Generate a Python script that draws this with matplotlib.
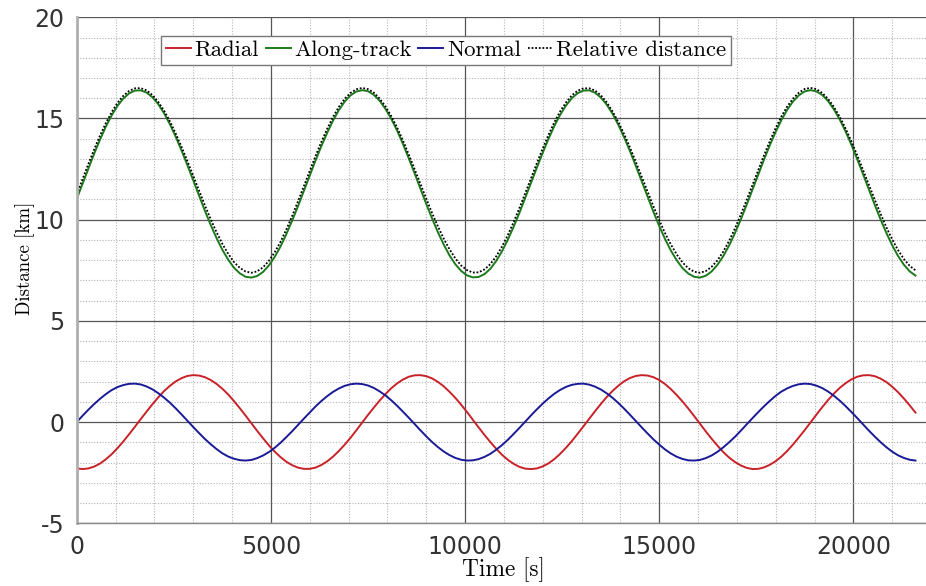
import matplotlib
matplotlib.use("Agg")
import matplotlib.pyplot as plt
from matplotlib.ticker import MultipleLocator

# sample times [s] and distances [km]
time_s = [0, 150, 300, 450, 600, 750, 900, 1050, 1200, 1350,
          1500, 1650, 1800, 1950, 2100, 2250, 2400, 2550, 2700, 2850,
          3000, 3150, 3300, 3450, 3600, 3750, 3900, 4050, 4200, 4350,
          4500, 4650, 4800, 4950, 5100, 5250, 5400, 5550, 5700, 5850,
          6000, 6150, 6300, 6450, 6600, 6750, 6900, 7050, 7200, 7350,
          7500, 7650, 7800, 7950, 8100, 8250, 8400, 8550, 8700, 8850,
          9000, 9150, 9300, 9450, 9600, 9750, 9900, 10050, 10200, 10350,
          10500, 10650, 10800, 10950, 11100, 11250, 11400, 11550, 11700, 11850,
          12000, 12150, 12300, 12450, 12600, 12750, 12900, 13050, 13200, 13350,
          13500, 13650, 13800, 13950, 14100, 14250, 14400, 14550, 14700, 14850,
          15000, 15150, 15300, 15450, 15600, 15750, 15900, 16050, 16200, 16350,
          16500, 16650, 16800, 16950, 17100, 17250, 17400, 17550, 17700, 17850,
          18000, 18150, 18300, 18450, 18600, 18750, 18900, 19050, 19200, 19350,
          19500, 19650, 19800, 19950, 20100, 20250, 20400, 20550, 20700, 20850,
          21000, 21150, 21300, 21450, 21600]

radial = [-2.29, -2.32, -2.29, -2.20, -2.05, -1.84, -1.59, -1.29, -0.96, -0.60,
          -0.23, 0.15, 0.52, 0.88, 1.22, 1.53, 1.79, 2.01, 2.17, 2.28,
          2.32, 2.30, 2.22, 2.08, 1.89, 1.65, 1.37, 1.04, 0.69, 0.32,
          -0.06, -0.44, -0.80, -1.15, -1.46, -1.73, -1.96, -2.13, -2.25, -2.31,
          -2.31, -2.25, -2.12, -1.94, -1.71, -1.43, -1.12, -0.78, -0.41, -0.03,
          0.35, 0.71, 1.06, 1.38, 1.67, 1.91, 2.10, 2.24, 2.31, 2.32,
          2.27, 2.16, 1.99, 1.77, 1.50, 1.20, 0.86, 0.50, 0.12, -0.26,
          -0.63, -0.98, -1.31, -1.61, -1.86, -2.06, -2.21, -2.30, -2.32, -2.29,
          -2.19, -2.04, -1.83, -1.57, -1.27, -0.94, -0.58, -0.21, 0.17, 0.54,
          0.90, 1.24, 1.54, 1.80, 2.02, 2.18, 2.28, 2.32, 2.30, 2.22,
          2.08, 1.88, 1.63, 1.34, 1.02, 0.67, 0.30, -0.08, -0.46, -0.82,
          -1.16, -1.48, -1.75, -1.97, -2.14, -2.26, -2.32, -2.31, -2.24, -2.11,
          -1.93, -1.70, -1.42, -1.10, -0.75, -0.39, -0.01, 0.37, 0.74, 1.09,
          1.41, 1.69, 1.92, 2.11, 2.24, 2.31, 2.32, 2.27, 2.15, 1.98,
          1.75, 1.48, 1.17, 0.83, 0.47]

along_track = [11.02, 11.77, 12.52, 13.26, 13.95, 14.59, 15.15, 15.62, 15.98, 16.24,
               16.38, 16.39, 16.28, 16.05, 15.71, 15.26, 14.72, 14.10, 13.42, 12.70,
               11.95, 11.19, 10.45, 9.75, 9.10, 8.52, 8.03, 7.63, 7.35, 7.18,
               7.14, 7.22, 7.42, 7.74, 8.16, 8.68, 9.29, 9.96, 10.67, 11.42,
               12.17, 12.92, 13.63, 14.29, 14.89, 15.41, 15.83, 16.14, 16.33, 16.40,
               16.35, 16.17, 15.88, 15.48, 14.99, 14.41, 13.75, 13.04, 12.30, 11.54,
               10.79, 10.07, 9.39, 8.78, 8.24, 7.80, 7.47, 7.25, 7.15, 7.17,
               7.31, 7.57, 7.95, 8.43, 9.00, 9.64, 10.33, 11.07, 11.82, 12.57,
               13.30, 13.99, 14.63, 15.18, 15.64, 16.00, 16.25, 16.38, 16.39, 16.27,
               16.03, 15.68, 15.23, 14.68, 14.06, 13.38, 12.65, 11.90, 11.14, 10.40,
               9.70, 9.05, 8.48, 8.00, 7.61, 7.34, 7.18, 7.14, 7.23, 7.44,
               7.77, 8.20, 8.72, 9.33, 10.00, 10.72, 11.47, 12.23, 12.97, 13.68,
               14.34, 14.93, 15.44, 15.85, 16.15, 16.34, 16.40, 16.34, 16.16, 15.86,
               15.45, 14.95, 14.36, 13.70, 12.99, 12.25, 11.49, 10.74, 10.02, 9.35,
               8.74, 8.21, 7.78, 7.45, 7.24]

normal = [0.00, 0.31, 0.61, 0.89, 1.15, 1.38, 1.58, 1.73, 1.83, 1.89,
          1.90, 1.86, 1.76, 1.62, 1.43, 1.21, 0.96, 0.68, 0.38, 0.07,
          -0.24, -0.54, -0.83, -1.09, -1.33, -1.54, -1.70, -1.81, -1.88, -1.90,
          -1.87, -1.78, -1.65, -1.48, -1.27, -1.02, -0.74, -0.45, -0.14, 0.17,
          0.47, 0.77, 1.04, 1.28, 1.49, 1.66, 1.79, 1.87, 1.90, 1.88,
          1.81, 1.69, 1.52, 1.32, 1.08, 0.81, 0.52, 0.22, -0.09, -0.40,
          -0.70, -0.98, -1.23, -1.45, -1.63, -1.77, -1.86, -1.90, -1.89, -1.83,
          -1.72, -1.57, -1.37, -1.14, -0.88, -0.59, -0.29, 0.02, 0.33, 0.63,
          0.91, 1.17, 1.40, 1.59, 1.74, 1.84, 1.89, 1.90, 1.85, 1.75,
          1.61, 1.42, 1.20, 0.94, 0.66, 0.36, 0.05, -0.26, -0.56, -0.85,
          -1.11, -1.35, -1.55, -1.71, -1.82, -1.89, -1.90, -1.87, -1.78, -1.65,
          -1.47, -1.25, -1.00, -0.73, -0.43, -0.12, 0.19, 0.49, 0.78, 1.05,
          1.30, 1.51, 1.67, 1.79, 1.87, 1.90, 1.88, 1.80, 1.68, 1.51,
          1.30, 1.06, 0.79, 0.50, 0.20, -0.11, -0.42, -0.71, -0.99, -1.24,
          -1.46, -1.64, -1.77, -1.86, -1.90]

rel_distance = [11.25, 12.00, 12.75, 13.47, 14.15, 14.77, 15.31, 15.77, 16.12, 16.36,
                16.49, 16.50, 16.39, 16.16, 15.82, 15.39, 14.86, 14.26, 13.60, 12.90,
                12.17, 11.44, 10.72, 10.03, 9.39, 8.81, 8.32, 7.91, 7.62, 7.44,
                7.38, 7.45, 7.65, 7.97, 8.39, 8.91, 9.52, 10.19, 10.91, 11.65,
                12.40, 13.14, 13.84, 14.49, 15.07, 15.57, 15.97, 16.26, 16.44, 16.51,
                16.45, 16.28, 15.99, 15.60, 15.12, 14.56, 13.92, 13.23, 12.51, 11.78,
                11.05, 10.34, 9.68, 9.07, 8.54, 8.09, 7.74, 7.51, 7.39, 7.40,
                7.54, 7.80, 8.18, 8.66, 9.23, 9.87, 10.57, 11.30, 12.05, 12.79,
                13.51, 14.19, 14.81, 15.35, 15.79, 16.14, 16.37, 16.49, 16.49, 16.38,
                16.14, 15.80, 15.35, 14.82, 14.22, 13.56, 12.85, 12.12, 11.39, 10.67,
                9.98, 9.34, 8.78, 8.29, 7.89, 7.60, 7.43, 7.38, 7.46, 7.67,
                7.99, 8.42, 8.95, 9.56, 10.24, 10.96, 11.70, 12.45, 13.18, 13.88,
                14.53, 15.11, 15.60, 15.99, 16.28, 16.46, 16.51, 16.45, 16.26, 15.97,
                15.57, 15.08, 14.51, 13.87, 13.18, 12.46, 11.73, 11.00, 10.30, 9.63,
                9.03, 8.50, 8.06, 7.72, 7.50]

plt.rcParams['axes.unicode_minus'] = False
serif = 'cmr10'

fig = plt.figure(figsize=(9.26, 5.86), dpi=100)
ax = fig.add_axes([0.0828, 0.107, 0.9226, 0.8635])

ax.plot(time_s, radial, color='#c82228', lw=1.4, label='Radial')
ax.plot(time_s, along_track, color='#1c7a1c', lw=1.4, label='Along-track')
ax.plot(time_s, normal, color='#1a1a96', lw=1.4, label='Normal')
ax.plot(time_s, rel_distance, color='black', lw=1.3, ls=(0, (1, 1)), label='Relative distance')

ax.set_xlim(0, 22000)
ax.set_ylim(-5, 20)
ax.xaxis.set_major_locator(MultipleLocator(5000))
ax.xaxis.set_minor_locator(MultipleLocator(1000))
ax.yaxis.set_major_locator(MultipleLocator(5))
ax.yaxis.set_minor_locator(MultipleLocator(1))
ax.grid(which='major', color='#555555', lw=0.9, ls='-')
ax.grid(which='minor', color='#b5b5b5', lw=0.8, ls=(0, (1, 1.5)))
ax.set_axisbelow(True)
ax.tick_params(which='both', length=0, labelsize=17, labelcolor='#333333')
ax.tick_params(axis='x', pad=8.5)
ax.tick_params(axis='y', pad=9)

for side in ['top', 'right']:
    ax.spines[side].set_visible(False)
ax.spines['left'].set_color('#b0b0b0')
ax.spines['left'].set_linewidth(2)
ax.spines['bottom'].set_color('#888888')
ax.spines['bottom'].set_linewidth(1)

ax.set_xlabel('Time [s]', fontfamily=serif, fontsize=16.8, labelpad=-1.5)
ax.set_ylabel('Distance [km]', fontfamily=serif, fontsize=13.6)
ax.yaxis.set_label_coords(-0.0490, 0.523)

leg = ax.legend(loc='upper left', bbox_to_anchor=(0.099, 0.964), borderaxespad=0,
                ncol=4, prop={'family': serif, 'size': 16.4}, handlelength=1.1,
                handletextpad=0.15, columnspacing=0.3, borderpad=0.2,
                fancybox=False, framealpha=1, edgecolor='#777777')
leg.get_frame().set_linewidth(1)

fig.savefig('out.png', dpi=100)
